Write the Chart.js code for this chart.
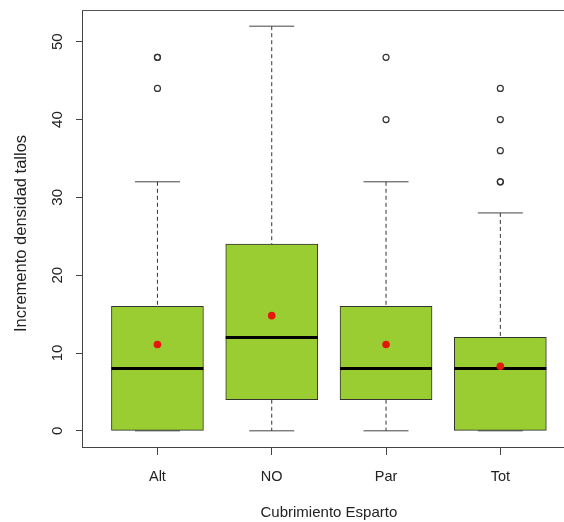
<!DOCTYPE html>
<html>
<head>
<meta charset="utf-8">
<script src="https://cdn.jsdelivr.net/npm/chart.js@4/dist/chart.umd.min.js"></script>
<style>
  html, body { margin: 0; padding: 0; background: #fff; }
  #wrap { width: 564px; height: 522px; }
</style>
</head>
<body>
<div id="wrap"><canvas id="boxCanvas" width="564" height="522"></canvas></div>
<script>
// boxplot stats
const categories = ['Alt', 'NO', 'Par', 'Tot'];
const whiskerLow = [0, 0, 0, 0];
const q1 = [0, 4, 4, 0];
const medians = [8, 12, 8, 8];
const q3 = [16, 24, 16, 12];
const whiskerHigh = [32, 52, 32, 28];
const means = [11.1, 14.8, 11.1, 8.3];
const outliers = [[44, 48, 48], [], [40, 48], [32, 32, 36, 40, 44]];
const yTicks = [0, 10, 20, 30, 40, 50];

const FONT = "'Liberation Sans', Arial, Helvetica, sans-serif";
const ctx = document.getElementById('boxCanvas').getContext('2d');

const pos = i => i + 1;

// dashed whiskers, gaps (null) split each category in two segments
const whiskerData = [];
categories.forEach((c, i) => {
    whiskerData.push({ x: pos(i), y: whiskerHigh[i] }, { x: pos(i), y: q3[i] }, { x: pos(i), y: null });
    whiskerData.push({ x: pos(i), y: q1[i] }, { x: pos(i), y: whiskerLow[i] }, { x: pos(i), y: null });
});

const capData = [];
categories.forEach((c, i) => {
    capData.push({ x: pos(i), y: whiskerLow[i] }, { x: pos(i), y: whiskerHigh[i] });
});

const outlierData = [];
outliers.forEach((list, i) => list.forEach(v => outlierData.push({ x: pos(i), y: v })));

// extra drawing: rotated y labels, axis titles, top frame line
const framePlugin = {
    id: 'framePlugin',
    afterDraw(chart) {
        const c = chart.ctx;
        const area = chart.chartArea;
        const xs = chart.scales.x;
        const ys = chart.scales.y;
        c.save();
        c.strokeStyle = '#555';
        c.lineWidth = 1;
        c.beginPath();
        c.moveTo(area.left, area.top + 0.5);
        c.lineTo(area.right, area.top + 0.5);
        c.stroke();

        c.fillStyle = '#222';
        c.font = '15px ' + FONT;
        c.textAlign = 'center';
        c.textBaseline = 'middle';
        yTicks.forEach(v => {
            c.save();
            c.translate(58, ys.getPixelForValue(v));
            c.rotate(-Math.PI / 2);
            c.fillText(String(v), 0, 0);
            c.restore();
        });

        c.font = '16.5px ' + FONT;
        c.save();
        c.translate(21, (area.top + area.bottom) / 2 + 5);
        c.rotate(-Math.PI / 2);
        c.fillText('Incremento densidad tallos', 0, 0);
        c.restore();

        c.font = '15px ' + FONT;
        c.fillText('Cubrimiento Esparto', xs.getPixelForValue(2.5), 513);
        c.restore();
    }
};

new Chart(ctx, {
    type: 'bar',
    data: {
        datasets: [
            {
                type: 'bar',
                label: 'caja',
                data: categories.map((c, i) => ({ x: pos(i), y: [q1[i], q3[i]] })),
                backgroundColor: '#9ACD32',
                borderColor: '#333',
                borderWidth: 1,
                borderSkipped: false,
                barThickness: 92,
                order: 6
            },
            {
                type: 'line',
                label: 'bigotes',
                data: whiskerData,
                borderColor: '#333',
                borderWidth: 1,
                borderDash: [4, 3],
                pointRadius: 0,
                spanGaps: false,
                order: 5
            },
            {
                type: 'scatter',
                label: 'topes',
                data: capData,
                pointStyle: 'line',
                pointRadius: 22.5,
                borderColor: '#444',
                borderWidth: 1,
                order: 4
            },
            {
                type: 'scatter',
                label: 'mediana',
                data: categories.map((c, i) => ({ x: pos(i), y: medians[i] })),
                pointStyle: 'line',
                pointRadius: 46,
                borderColor: '#000',
                borderWidth: 3,
                order: 3
            },
            {
                type: 'scatter',
                label: 'atipicos',
                data: outlierData,
                pointStyle: 'circle',
                pointRadius: 3,
                backgroundColor: 'rgba(0,0,0,0)',
                borderColor: '#333',
                borderWidth: 1.2,
                order: 2
            },
            {
                type: 'scatter',
                label: 'media',
                data: categories.map((c, i) => ({ x: pos(i), y: means[i] })),
                pointStyle: 'circle',
                pointRadius: 3.8,
                backgroundColor: '#E5170B',
                borderWidth: 0,
                order: 1
            }
        ]
    },
    options: {
        responsive: false,
        animation: false,
        devicePixelRatio: 1,
        events: [],
        layout: { autoPadding: false, padding: { top: 10, right: 0, left: 0, bottom: 0 } },
        plugins: {
            legend: { display: false },
            tooltip: { enabled: false }
        },
        scales: {
            x: {
                type: 'linear',
                offset: false,
                min: 0.34,
                max: 4.557,
                afterBuildTicks: s => { s.ticks = categories.map((c, i) => ({ value: pos(i) })); },
                afterFit: s => { s.height = 75; },
                ticks: {
                    autoSkip: false,
                    maxRotation: 0,
                    padding: 13,
                    color: '#222',
                    font: { family: FONT, size: 14.5 },
                    callback: v => categories[v - 1]
                },
                grid: { display: true, offset: false, drawOnChartArea: false, drawTicks: true, tickLength: 8, color: '#444' },
                border: { display: true, color: '#444', width: 1 }
            },
            y: {
                type: 'linear',
                min: -2.08,
                max: 54.08,
                afterBuildTicks: s => { s.ticks = yTicks.map(v => ({ value: v })); },
                afterFit: s => { s.width = 82; },
                ticks: { callback: () => '', padding: 0 },
                grid: { display: true, drawOnChartArea: false, drawTicks: true, tickLength: 6, color: '#444' },
                border: { display: true, color: '#444', width: 1 }
            }
        }
    },
    plugins: [framePlugin]
});
</script>
</body>
</html>
